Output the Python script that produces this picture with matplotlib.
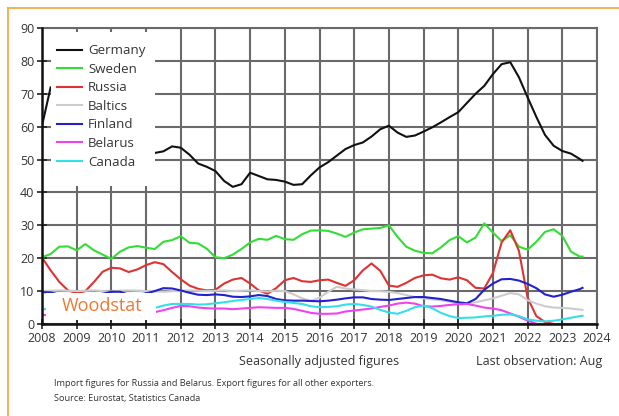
import numpy as np
import matplotlib
matplotlib.use('Agg')
import matplotlib.pyplot as plt
from matplotlib.patches import Rectangle
from matplotlib.lines import Line2D

plt.rcParams['font.family'] = ['Open Sans', 'DejaVu Sans']

# quarterly points, last one is Aug 2023
t = np.array([y + m / 12 for y in range(2008, 2024) for m in (0, 3, 6, 9)])
t[-1] = 2023 + 7 / 12
nan = np.nan

germany = [60.3, 72.0, 70.0, 64.0,
           56.0, 50.0, 48.0, 48.0,
           49.0, 50.0, 51.0, 51.5,
           51.5, 52.0, 52.5, 54.0,
           53.6, 51.5, 48.8, 47.8,
           46.5, 43.5, 41.7, 42.5,
           46.0, 45.0, 44.0, 43.8,
           43.3, 42.3, 42.5, 45.2,
           47.6, 49.2, 51.2, 53.2,
           54.4, 55.2, 57.0, 59.2,
           60.3, 58.2, 56.9, 57.3,
           58.5, 59.8, 61.3, 62.9,
           64.4, 67.2, 70.0, 72.4,
           76.0, 79.0, 79.6, 75.0,
           68.9, 63.0, 57.5, 54.2,
           52.6, 51.8, 50.2, 49.6]
sweden = [20.3, 21.3, 23.5, 23.6,
          22.4, 24.3, 22.4, 21.1,
          19.8, 22.0, 23.3, 23.7,
          23.2, 22.8, 25.0, 25.5,
          26.7, 24.7, 24.5, 22.9,
          20.3, 20.0, 21.1, 22.8,
          24.8, 25.9, 25.6, 26.8,
          25.8, 25.6, 27.3, 28.4,
          28.5, 28.3, 27.5, 26.5,
          27.8, 28.8, 29.0, 29.2,
          30.0, 26.5, 23.5, 22.3,
          21.6, 21.5, 23.3, 25.5,
          26.7, 24.8, 26.3, 30.6,
          27.8, 25.2, 27.0, 23.5,
          22.6, 25.0, 28.0, 28.8,
          26.8, 22.0, 20.5, 20.5]
russia = [20.2, 16.3, 12.8, 10.2,
          9.4, 10.0, 12.8, 15.9,
          17.1, 16.9, 15.8, 16.6,
          17.9, 18.8, 18.2, 15.8,
          13.6, 11.7, 10.7, 10.2,
          10.4, 12.3, 13.5, 14.0,
          12.3, 10.2, 9.2, 10.9,
          13.3, 14.0, 13.0, 12.8,
          13.3, 13.5, 12.5, 11.6,
          13.3, 16.3, 18.4, 16.2,
          11.7, 11.3, 12.5, 14.0,
          14.8, 15.0, 13.9, 13.5,
          14.2, 13.3, 11.0, 10.8,
          15.5, 24.8, 28.5, 22.2,
          8.0, 2.4, 0.6, 0.0,
          nan, nan, nan, nan]
baltics = [10.0, 10.1, 10.2, 10.1,
           10.0, 10.1, 10.2, 10.0,
           9.9, 10.1, 10.2, 10.1,
           10.0, 10.0, 9.8, 10.0,
           10.1, 10.2, 10.1, 10.0,
           10.1, 10.2, 10.0, 10.1,
           10.2, 10.0, 9.9, 10.1,
           10.0, 9.0, 7.8, 7.0,
           8.0, 9.8, 11.3, 10.8,
           10.5, 10.3, 10.0, 10.0,
           9.8, 9.4, 8.8, 8.2,
           7.8, 7.5, 7.2, 6.8,
           6.2, 6.2, 6.6, 7.2,
           7.8, 8.6, 9.4, 9.0,
           7.2, 6.2, 5.4, 5.0,
           4.9, 4.7, 4.4, 4.3]
finland = [9.7, 9.6, 8.9, 8.9,
           8.9, 8.9, 8.9, 9.2,
           9.8, 9.8, 8.9, 8.9,
           9.3, 10.0, 10.9, 10.8,
           10.2, 9.5, 8.9, 8.8,
           9.0, 8.8, 8.3, 8.2,
           8.4, 8.8, 8.5, 7.6,
           7.2, 7.1, 7.1, 7.0,
           6.9, 7.1, 7.4, 7.8,
           8.1, 8.1, 7.6, 7.4,
           7.3, 7.6, 7.9, 8.2,
           8.2, 7.9, 7.6, 7.1,
           6.6, 6.3, 7.6, 10.4,
           12.3, 13.6, 13.7, 13.2,
           12.2, 10.9, 9.0, 8.3,
           8.9, 9.8, 10.6, 11.0]
belarus = [2.7, 2.8, 3.0, 3.2,
           3.3, 3.4, 3.5, 3.5,
           3.5, 3.5, 3.5, 3.5,
           3.5, 3.6, 4.2, 4.9,
           5.5, 5.4, 5.0, 4.8,
           4.7, 4.7, 4.5, 4.7,
           4.9, 5.1, 5.0, 4.9,
           4.9, 4.6, 4.0, 3.4,
           3.1, 3.1, 3.2, 3.8,
           4.1, 4.4, 4.7, 5.2,
           5.6, 6.2, 6.5, 6.2,
           5.4, 5.3, 5.5, 5.8,
           6.0, 6.1, 5.6, 5.0,
           4.7, 4.2, 3.2, 2.2,
           1.0, 0.1, nan, nan,
           nan, nan, nan, nan]
canada = [4.5, 4.5, 4.6, 4.8,
          5.0, 5.0, 5.0, 5.0,
          5.0, 5.0, 4.9, 4.9,
          4.9, 4.9, 5.6, 6.1,
          6.1, 6.1, 5.9, 6.0,
          6.3, 6.6, 7.0, 7.3,
          7.6, 7.9, 7.6, 7.1,
          6.7, 6.4, 6.1, 5.4,
          5.1, 5.2, 5.4, 5.9,
          6.1, 5.8, 5.3, 4.3,
          3.5, 3.1, 4.0, 5.1,
          5.6, 4.8, 3.4, 2.4,
          1.8, 1.9, 2.0, 2.3,
          2.5, 2.8, 2.9, 2.4,
          1.4, 1.0, 0.8, 1.0,
          1.4, 1.9, 2.4, 2.5]

series = [('Germany', germany, '#111111'),
          ('Sweden', sweden, '#33dd33'),
          ('Russia', russia, '#dd3333'),
          ('Baltics', baltics, '#cccccc'),
          ('Finland', finland, '#2222cc'),
          ('Belarus', belarus, '#ee44ee'),
          ('Canada', canada, '#33e0e8')]

x_ticks = list(range(2008, 2025))
y_ticks = list(range(0, 91, 10))

txt = '#353535'
grid_c = '#6a6a6a'

fig = plt.figure(figsize=(6.19, 4.16), dpi=100)
ax = fig.add_axes([42 / 619, 1 - 324 / 416, 555 / 619, 296 / 416])

# grid drawn from the tick lists
ax.vlines(x_ticks, 0, 90, colors=grid_c, lw=1.5, zorder=1)
ax.hlines(y_ticks, 2008, 2024, colors=grid_c, lw=1.5, zorder=1)

for name, vals, col in series:
    ax.plot(t, vals, color=col, lw=1.5, label=name, zorder=2)

ax.set_xlim(2008, 2024)
ax.set_ylim(0, 90)
ax.set_xticks(x_ticks)
ax.set_yticks(y_ticks)
ax.tick_params(direction='inout', length=7, width=1.2, colors='#222222',
               labelcolor=txt, labelsize=9, pad=2)
for s in ('left', 'bottom'):
    ax.spines[s].set_color('#111111')
    ax.spines[s].set_linewidth(1.8)
    ax.spines[s].set_zorder(6)
for s in ('top', 'right'):
    ax.spines[s].set_color(grid_c)
    ax.spines[s].set_linewidth(1.5)

# white areas behind the legend and the logo
ax.add_patch(Rectangle((0.017, 0.465), 0.187, 0.52, transform=ax.transAxes,
                       fc='white', ec='none', zorder=3))
ax.add_patch(Rectangle((2008.12, 1.2), 3.18, 8.2, fc='white', ec='none', zorder=3))
ax.text(2009.72, 5.4, 'Woodstat', color='#ee7733', fontsize=13, ha='center',
        va='center', zorder=4)

leg = ax.legend(loc='upper left', bbox_to_anchor=(0.027, 0.945), frameon=False,
                fontsize=9.5, handlelength=1.9, handletextpad=0.45,
                labelspacing=0.42, borderpad=0, borderaxespad=0)
leg.set_zorder(5)
for tx in leg.get_texts():
    tx.set_color(txt)

fig.text(319 / 619, 1 - 361 / 416, 'Seasonally adjusted figures', ha='center',
         va='center', fontsize=9, color=txt)
fig.text(476 / 619, 1 - 361 / 416, 'Last observation: Aug', ha='left',
         va='center', fontsize=9, color=txt)
fig.text(54 / 619, 1 - 384 / 416,
         'Import figures for Russia and Belarus. Export figures for all other exporters.',
         ha='left', va='center', fontsize=6.6, color=txt)
fig.text(54 / 619, 1 - 399 / 416, 'Source: Eurostat, Statistics Canada',
         ha='left', va='center', fontsize=6.6, color=txt)

# orange frame
fig.add_artist(Line2D([8 / 619, 1], [1 - 8 / 416, 1 - 8 / 416],
                      transform=fig.transFigure, color='#f2a53a', lw=1.2))
fig.add_artist(Line2D([8 / 619, 8 / 619], [0, 1 - 8 / 416],
                      transform=fig.transFigure, color='#f2a53a', lw=1.2))

fig.savefig('out.png', dpi=100)
